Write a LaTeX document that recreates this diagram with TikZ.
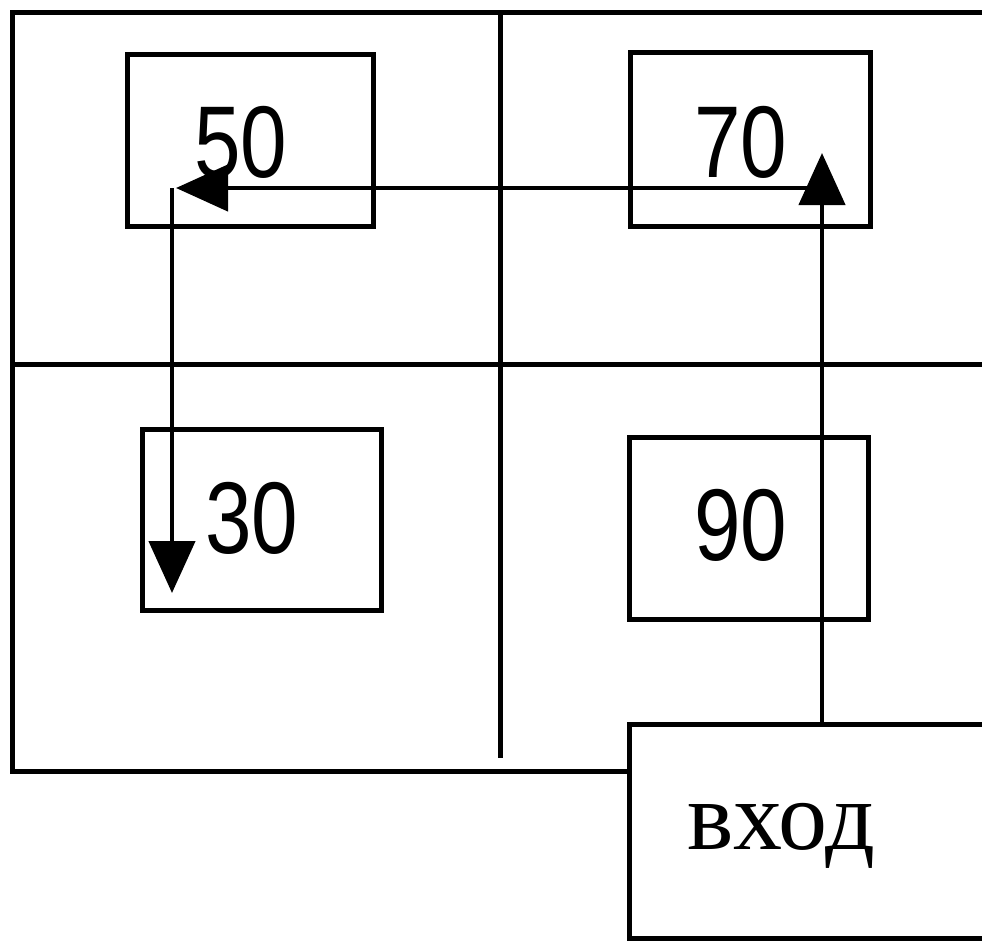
\documentclass[tikz,border=0pt]{standalone}
\usepackage{fontspec}
\setmainfont{Liberation Serif}
\newfontfamily\digitfont{Liberation Sans}
\usetikzlibrary{arrows.meta}
\tikzset{
  frame/.style={line width=5pt, line cap=rect},
  box/.style={draw, line width=5pt, inner sep=0pt, outer sep=0pt, fill=none},
  num/.style={font=\digitfont\fontsize{102}{102}\selectfont, inner sep=0pt},
  conn/.style={line width=4.5pt, -{Triangle[width=46pt,length=52pt]}},
}
\newcommand{\dig}[1]{\scalebox{0.82}[1]{#1}}
\begin{document}
\begin{tikzpicture}[x=1pt,y=-1pt]
\useasboundingbox[fill=white] (0,0) rectangle (982,942);
% outer frame and dividers
\coordinate (tl) at (12,13);
\coordinate (tr) at (995,13);
\coordinate (bl) at (12,771);
\coordinate (ml) at (12,364);
\coordinate (mr) at (995,364);
\coordinate (vt) at (500,13);
\coordinate (vb) at (500,758);
\draw[frame] (tr) -- (tl) -- (bl) -- (629,771);
\draw[frame] (ml) -- (mr);
\draw[frame, line cap=butt] (vt) -- (vb);
% boxes
\node[box, minimum width=246pt, minimum height=171pt] (n50) at (250,140.5) {};
\node[box, minimum width=240pt, minimum height=173pt] (n70) at (750,139.5) {};
\node[box, minimum width=239pt, minimum height=181pt] (n30) at (261.5,519.5) {};
\node[box, minimum width=239pt, minimum height=182pt] (n90) at (748.5,528) {};
\node[box, fill=white, minimum width=400pt, minimum height=214pt] (vhod) at (829,831) {};
% texts
\node[num, anchor=base] (t50) at (241,177) {\dig{50}};
\node[num, anchor=base] (t70) at (741,177) {\dig{70}};
\node[num, anchor=base] (t30) at (252,553) {\dig{30}};
\node[num, anchor=base] (t90) at (741,560) {\dig{90}};
\node[anchor=base, inner sep=0pt, font=\fontsize{98}{98}\selectfont] (tvhod) at (781,849) {вход};
% connectors
\coordinate (a70) at (822,153);
\coordinate (turn) at (822,188);
\coordinate (a50) at (176,188);
\coordinate (c50) at (172,188);
\coordinate (a30) at (172,593);
\draw[conn] (vhod.north -| a70) -- (a70);
\draw[conn] (turn) -- (a50);
\draw[conn] (c50) -- (a30);
\end{tikzpicture}
\end{document}
